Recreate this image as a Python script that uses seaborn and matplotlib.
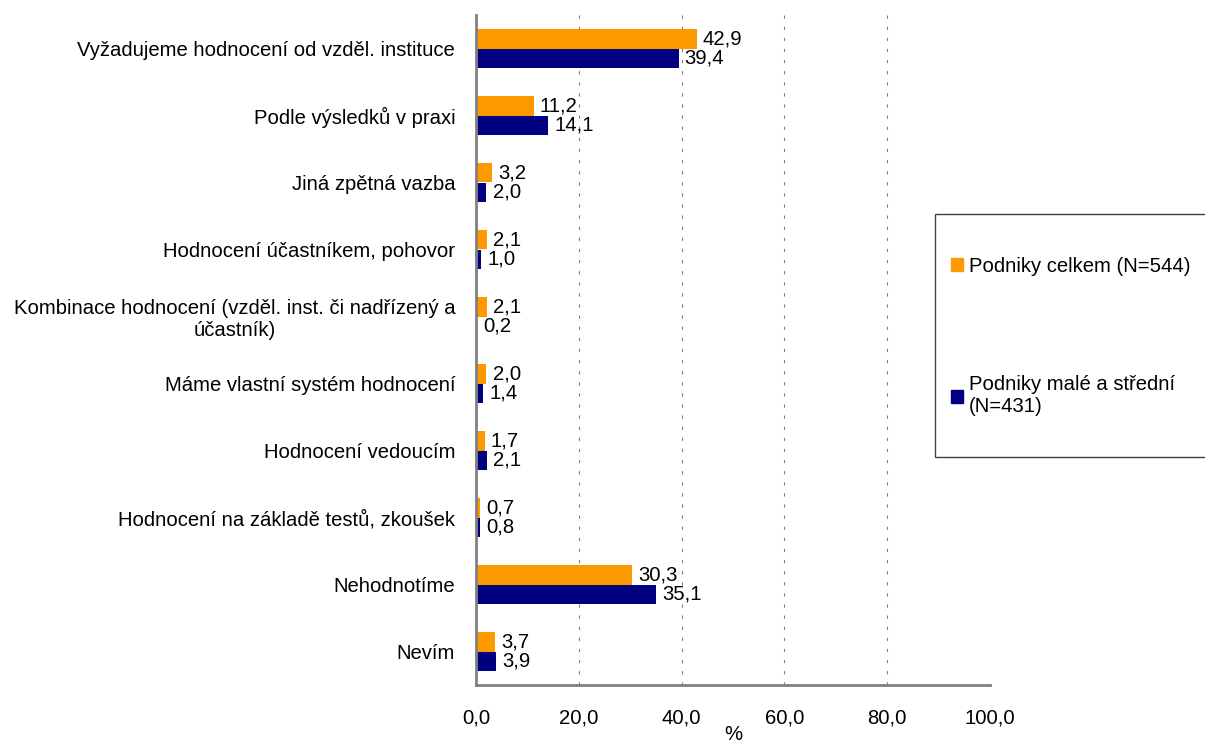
import matplotlib
matplotlib.use("Agg")
import matplotlib.pyplot as plt
import seaborn as sns
import pandas as pd
import numpy as np
from matplotlib.patches import Patch, Rectangle

categories = [
    "Vyžadujeme hodnocení od vzděl. instituce",
    "Podle výsledků v praxi",
    "Jiná zpětná vazba",
    "Hodnocení účastníkem, pohovor",
    "Kombinace hodnocení (vzděl. inst. či nadřízený a\núčastník)",
    "Máme vlastní systém hodnocení",
    "Hodnocení vedoucím",
    "Hodnocení na základě testů, zkoušek",
    "Nehodnotíme",
    "Nevím",
]
series_names = ["Podniky celkem (N=544)", "Podniky malé a střední\n(N=431)"]
celkem = [42.9, 11.2, 3.2, 2.1, 2.1, 2.0, 1.7, 0.7, 30.3, 3.7]
male_stredni = [39.4, 14.1, 2.0, 1.0, 0.2, 1.4, 2.1, 0.8, 35.1, 3.9]
colors = ["#FF9900", "#000080"]
xticks = [0, 20, 40, 60, 80, 100]

sns.set_theme(style="white")
plt.rcParams["font.family"] = ["Liberation Sans", "DejaVu Sans"]
plt.rcParams["text.color"] = "black"
plt.rcParams["xtick.labelcolor"] = "black"
plt.rcParams["ytick.labelcolor"] = "black"
plt.rcParams["axes.labelcolor"] = "black"

df = pd.DataFrame({
    "cat": categories * 2,
    "val": celkem + male_stredni,
    "series": [series_names[0]] * len(categories) + [series_names[1]] * len(categories),
})

W, H = 1205, 745
fig = plt.figure(figsize=(W / 100, H / 100), dpi=100)
ax = fig.add_axes([476 / W, 1 - 685 / H, (990 - 476) / W, (685 - 15) / H])

sns.barplot(data=df, y="cat", x="val", hue="series", orient="h",
            palette=colors, width=0.58, ax=ax, legend=False, saturation=1,
            linewidth=0)

fs = 14.6
for cont in ax.containers:
    labels = [f"{v:.1f}".replace(".", ",") for v in cont.datavalues]
    ax.bar_label(cont, labels=labels, padding=4.5, fontsize=fs, color="black")

ax.set_xlim(0, 100)
ax.set_ylim(len(categories) - 0.5, -0.5)
ax.set_xticks(xticks)
ax.set_xticklabels([f"{t:.1f}".replace(".", ",") for t in xticks], fontsize=fs)
ax.set_yticks(range(len(categories)))
ax.set_yticklabels(categories, fontsize=fs, multialignment="center")
ax.set_yticks(np.arange(-0.5, len(categories) + 0.5, 1), minor=True)
ax.tick_params(axis="y", which="major", length=0, pad=15)
ax.tick_params(axis="y", which="minor", length=7, width=2, color="#808080", direction="out")
ax.tick_params(axis="x", which="major", length=6, width=2, color="#808080", direction="out", pad=11)
ax.set_xlabel("%", fontsize=fs, labelpad=-2)
ax.set_ylabel("")

for s in ["top", "right"]:
    ax.spines[s].set_visible(False)
for s in ["left", "bottom"]:
    ax.spines[s].set_color("#808080")
    ax.spines[s].set_linewidth(2)

ax.grid(axis="x", color="#808080", linestyle=(0, (3, 7)), linewidth=0.8)
ax.set_axisbelow(True)
gl = ax.get_xgridlines()
gl[0].set_visible(False)
gl[-1].set_visible(False)

# legend frame
fig.patches.append(Rectangle((935 / W, 1 - 457 / H), (1215 - 935) / W, (457 - 214) / H,
                             transform=fig.transFigure, facecolor="white",
                             edgecolor="#404040", linewidth=1, zorder=0))

handles = [Patch(facecolor=c, edgecolor=c) for c in colors]
leg = fig.legend(handles, series_names, loc="upper left",
                 bbox_to_anchor=(951 / W, 1 - 257 / H),
                 fontsize=fs, frameon=False,
                 labelspacing=4.9, handlelength=0.6, handleheight=0.6,
                 handletextpad=0.3, borderpad=0, borderaxespad=0)

fig.savefig("out.png", dpi=100)
